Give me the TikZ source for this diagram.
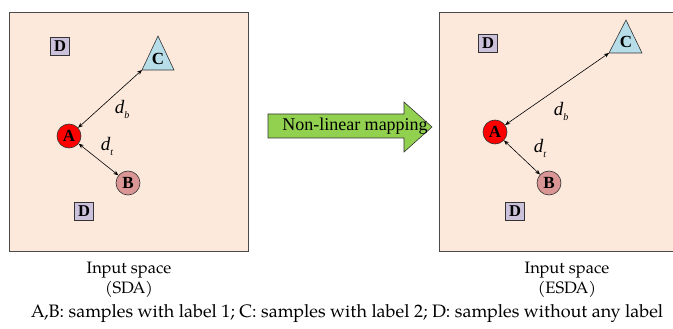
\documentclass[tikz,border=0pt]{standalone}
\usepackage{fontspec}
\setmainfont{Liberation Serif}
\newfontfamily\pal{TeX Gyre Pagella}
\usetikzlibrary{arrows.meta}
\definecolor{peach}{HTML}{FCE9DC}
\definecolor{boxline}{HTML}{4A4A4A}
\definecolor{ared}{HTML}{FF0000}
\definecolor{bpink}{HTML}{D99694}
\definecolor{cblue}{HTML}{B7DEE8}
\definecolor{dlav}{HTML}{CCC1DA}
\definecolor{mapgreen}{HTML}{92D050}
\tikzset{
  spacebox/.style={draw=boxline, fill=peach, line width=0.9pt},
  samp/.style={circle, draw=black!80, line width=0.6pt, minimum size=24pt, inner sep=0pt, font=\fontsize{17}{17}\selectfont\bfseries},
  unl/.style={rectangle, draw=black!80, fill=dlav, line width=0.6pt, minimum width=19pt, minimum height=18pt, inner sep=0pt, font=\fontsize{16.5}{16.5}\selectfont\bfseries},
  tri/.style={draw=black!80, fill=cblue, line width=0.6pt},
  tlabel/.style={inner sep=0pt, font=\fontsize{17}{17}\selectfont\bfseries},
  dist/.style={{Stealth[length=5pt,width=4pt]}-{Stealth[length=5pt,width=4pt]}, line width=0.6pt},
  dlab/.style={inner sep=0pt, font=\fontsize{19}{19}\selectfont\itshape},
  captxt/.style={inner sep=0pt, anchor=base, font=\pal\fontsize{16.5}{16.5}\selectfont},
}
\newcommand{\dsub}[1]{d\raisebox{-5pt}{\fontsize{10}{10}\selectfont #1}}
\begin{document}
\begin{tikzpicture}[x=1pt,y=-1pt]
\useasboundingbox (0,0) rectangle (673,329);
\clip (0,0) rectangle (673,329);
% left space
\draw[spacebox] (9,12) rectangle (248,251);
\node[unl] (lD1) at (60,46) {D};
\node[unl] (lD2) at (84,211) {D};
\draw[tri] (158,36) -- (174,70) -- (142,70) -- cycle;
\node[tlabel] (lC) at (158,59) {C};
\coordinate (lCc) at (142,70);
\node[samp, fill=ared] (lA) at (69,136) {A};
\node[samp, fill=bpink] (lB) at (128,183) {B};
\draw[dist] (lA) -- (lCc);
\draw[dist] (lA) -- (lB);
\node[dlab] (ldb) at (122,109) {\dsub{b}};
\node[dlab] (ldt) at (107,146) {\dsub{t}};
% mapping arrow
\draw[draw=black!80, fill=mapgreen, line width=0.6pt] (268,114) -- (404,114) -- (404,102) -- (432,127) -- (404,152) -- (404,138) -- (268,138) -- cycle;
\node[inner sep=0pt, font=\fontsize{18}{18}\selectfont] (map) at (355,126) {Non-linear mapping};
% right space
\draw[spacebox] (439,12) rectangle (700,251);
\node[unl] (rD1) at (488,43) {D};
\node[unl] (rD2) at (515,211) {D};
\draw[tri] (626,20) -- (642,53) -- (609,53) -- cycle;
\node[tlabel] (rC) at (626,42) {C};
\coordinate (rCc) at (609,53);
\node[samp, fill=ared] (rA) at (495,132) {A};
\node[samp, fill=bpink] (rB) at (549,183) {B};
\draw[dist] (rA) -- (rCc);
\draw[dist] (rA) -- (rB);
\node[dlab] (rdb) at (561,111) {\dsub{b}};
\node[dlab] (rdt) at (540,148) {\dsub{t}};
% captions
\node[captxt] (lcap1) at (129,273) {Input space};
\node[captxt] (lcap2) at (129,293) {(SDA)};
\node[captxt] (rcap1) at (567,273) {Input space};
\node[captxt] (rcap2) at (567,293) {(ESDA)};
\node[captxt, font=\pal\fontsize{18}{18}\selectfont] (legend) at (347,317) {A,B: samples with label 1; C: samples with label 2; D: samples without any label};
\end{tikzpicture}
\end{document}
